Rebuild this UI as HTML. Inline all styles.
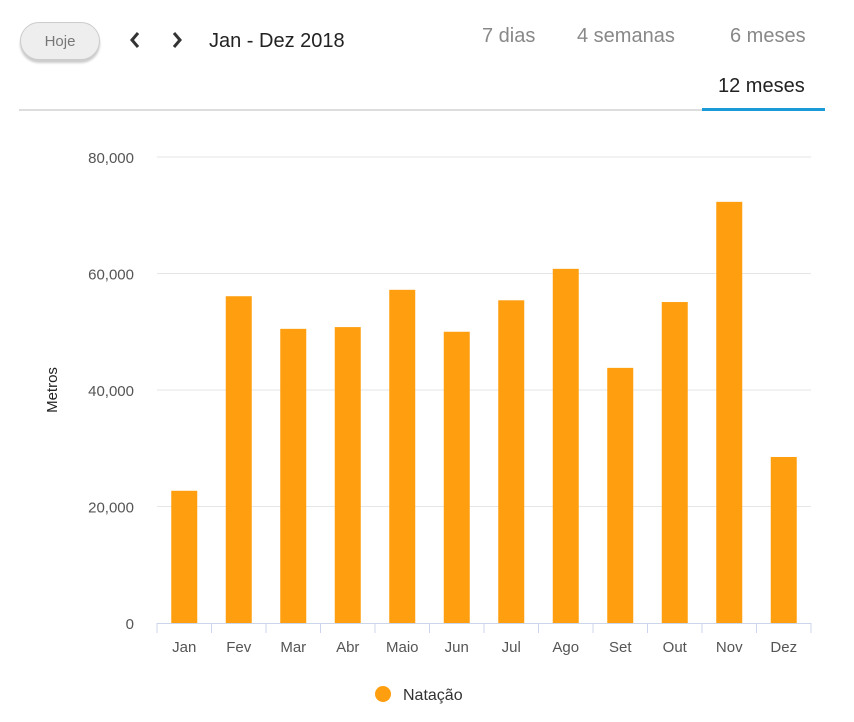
<!DOCTYPE html>
<html><head><meta charset="utf-8"><style>
body{margin:0;width:854px;height:722px;background:#fff;font-family:"Liberation Sans",sans-serif;position:relative;overflow:hidden}
.abs{position:absolute}
#hoje{left:20px;top:22px;width:80px;height:38px;border-radius:19px;background:#eee;border:1px solid #ccc;box-shadow:0 3px 2px #ccc;color:#777;font-size:15px;line-height:38px;text-align:center;box-sizing:border-box}
.nav{top:30px}
#title{left:209px;top:30px;font-size:20px;color:#222}
.tab{font-size:20px;color:#888;top:25px}
#t12{left:718px;top:75px;color:#222}
#hr{left:19px;top:109px;width:806px;height:2px;background:#ddd}
#ul{left:702px;top:108px;width:123px;height:3px;background:#1a9ad6}
</style></head><body>
<div id="hoje" class="abs">Hoje</div>
<svg class="abs nav" style="left:129px" width="12" height="20"><path d="M9 3 L3 10 L9 17" fill="none" stroke="#333" stroke-width="3"/></svg>
<svg class="abs nav" style="left:171px" width="12" height="20"><path d="M3 3 L9 10 L3 17" fill="none" stroke="#333" stroke-width="3"/></svg>
<div id="title" class="abs">Jan - Dez 2018</div>
<div class="abs tab" style="left:482px">7 dias</div>
<div class="abs tab" style="left:577px">4 semanas</div>
<div class="abs tab" style="left:730px">6 meses</div>
<div id="t12" class="abs tab">12 meses</div>
<div id="hr" class="abs"></div>
<div id="ul" class="abs"></div>
<svg id="chart" class="abs" style="left:0;top:0" width="854" height="722"></svg>
<script>
const categories=["Jan","Fev","Mar","Abr","Maio","Jun","Jul","Ago","Set","Out","Nov","Dez"];
const values=[22700,56100,50500,50800,57200,50000,55400,60800,43800,55100,72300,28500];
const ticks=[0,20000,40000,60000,80000];
const tickLabels=["0","20,000","40,000","60,000","80,000"];
const seriesName="Natação";
const NS="http://www.w3.org/2000/svg";
const svg=document.getElementById('chart');
const x0=157,x1=811,yB=623,yT=157,maxV=80000;
const band=(x1-x0)/categories.length;
const y=v=>yB-(v/maxV)*(yB-yT);
const xc=i=>x0+band*(i+0.5);
function mk(t,a){const e=document.createElementNS(NS,t);for(const k in a)e.setAttribute(k,a[k]);svg.appendChild(e);return e;}
ticks.forEach((t,i)=>{
 if(t>0){const g=mk('line',{x1:x0,x2:x1,y1:y(t),y2:y(t),stroke:'#e6e6e6','stroke-width':1});
 
 }
 const l=mk('text',{x:134,y:y(t)+6,'text-anchor':'end','font-size':15,fill:'#555','font-family':'Liberation Sans'});
 l.textContent=tickLabels[i];
 
 
});
const ax=mk('line',{x1:x0,x2:x1,y1:yB+0.5,y2:yB+0.5,stroke:'#ccd6eb','stroke-width':1});


for(let i=0;i<=categories.length;i++){
 const tk=mk('line',{x1:x0+band*i,x2:x0+band*i,y1:yB,y2:yB+10,stroke:'#ccd6eb'});
 
 
}
categories.forEach((c,i)=>{
 const b=mk('rect',{x:xc(i)-13,y:y(values[i]),width:26,height:yB-y(values[i]),fill:'#ff9f10'});
 
 
 const l=mk('text',{x:xc(i),y:652,'text-anchor':'middle','font-size':15,fill:'#555','font-family':'Liberation Sans'});
 l.textContent=c;
 
 
});
const yt=mk('text',{x:0,y:0,transform:'translate(57,390) rotate(-90)','text-anchor':'middle','font-size':15,fill:'#222','font-family':'Liberation Sans'});
yt.textContent='Metros';


const ld=mk('circle',{cx:383,cy:694,r:8,fill:'#ff9f10'});


const lt=mk('text',{x:403,y:700,'font-size':16,fill:'#333','font-family':'Liberation Sans'});
lt.textContent=seriesName;


</script>
</body></html>
